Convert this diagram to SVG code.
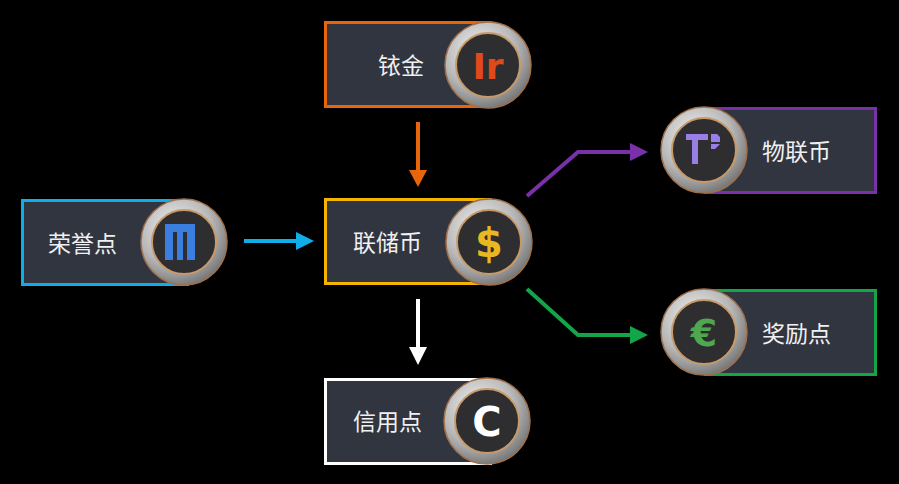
<svg xmlns="http://www.w3.org/2000/svg" width="899" height="484" viewBox="0 0 899 484">
<defs>
<style>
.box{fill:#313540;stroke-width:3}
.lbl{font-family:"Noto Sans CJK SC",sans-serif;font-size:23px;fill:#f0f0f0;dominant-baseline:central}
.ring{fill:url(#silver);stroke:#a0704a;stroke-width:1.5}
.inner{fill:#2e2e30;stroke:#c89a6a;stroke-width:2}
.ico{font-family:"DejaVu Sans",sans-serif;font-weight:bold;text-anchor:middle;dominant-baseline:central}
.c{fill:none;stroke-width:4}
</style>
<radialGradient id="silver" cx="0.4" cy="0.35" r="0.7"><stop offset="0" stop-color="#f4f4f4"/><stop offset="0.6" stop-color="#b8b8b8"/><stop offset="1" stop-color="#707070"/></radialGradient>
<marker id="mo" markerWidth="6" markerHeight="6" refX="3" refY="3" orient="auto" markerUnits="userSpaceOnUse" viewBox="0 0 6 6"><path d="M0,0L6,3L0,6z" fill="#e8650a"/></marker>
</defs>
<rect width="899" height="484" fill="#000"/>
<g id="connectors">
<path class="c" d="M418,122V172" stroke="#e8650a"/><path d="M409,170h18l-9,17z" fill="#e8650a"/>
<path class="c" d="M244,241H298" stroke="#10aee8"/><path d="M296,232v18l18,-9z" fill="#10aee8"/>
<path class="c" d="M418,299V349" stroke="#fff"/><path d="M409,347h18l-9,18z" fill="#fff"/>
<path class="c" d="M527,196L578,152H632" stroke="#7a30a8"/><path d="M630,143v18l18,-9z" fill="#7a30a8"/>
<path class="c" d="M527,289L578,335H632" stroke="#12a648"/><path d="M630,326v18l18,-9z" fill="#12a648"/>
</g>
<g id="iridium">
<rect class="box" x="325.5" y="22.5" width="165" height="84" stroke="#e8650a"/>
<text class="lbl" x="378" y="64">铱金</text>
<circle class="ring" cx="488" cy="65" r="43"/><circle class="inner" cx="488" cy="65" r="32"/>
<text class="ico" x="488" y="66" font-size="36" fill="#e04a1a">Ir</text>
</g>
<g id="honor">
<rect class="box" x="22.5" y="200.5" width="165" height="84" stroke="#10aee8"/>
<text class="lbl" x="48" y="242">荣誉点</text>
<circle class="ring" cx="184" cy="242" r="43"/><circle class="inner" cx="184" cy="242" r="32"/>
<path d="M165,224h30v36h-8v-28h-4v28h-6v-28h-4v28h-8z" fill="#3a7ee0"/>
</g>
<g id="fed">
<rect class="box" x="325.5" y="199.5" width="165" height="84" stroke="#f5b400"/>
<text class="lbl" x="353" y="241">联储币</text>
<circle class="ring" cx="489" cy="242" r="43"/><circle class="inner" cx="489" cy="242" r="32"/>
<text class="ico" x="489" y="243" font-size="40" fill="#e8b820">$</text>
</g>
<g id="credit">
<rect class="box" x="325.5" y="379.5" width="165" height="84" stroke="#fff"/>
<text class="lbl" x="353" y="420">信用点</text>
<circle class="ring" cx="487" cy="421" r="43"/><circle class="inner" cx="487" cy="421" r="32"/>
<text class="ico" x="487" y="422" font-size="40" fill="#fff">C</text>
</g>
<g id="iot">
<rect class="box" x="705.5" y="108.5" width="170" height="84" stroke="#7a30a8"/>
<text class="lbl" x="762" y="150">物联币</text>
<circle class="ring" cx="704" cy="150" r="43"/><circle class="inner" cx="704" cy="150" r="32"/>
<path d="M686,134h22v6h-10v24h-6v-24h-6z M711,134h6l3,3v5h-9z M711,144h9l-5,5h-4z" fill="#9a7ee8"/>
</g>
<g id="reward">
<rect class="box" x="705.5" y="290.5" width="170" height="84" stroke="#12a648"/>
<text class="lbl" x="762" y="332">奖励点</text>
<circle class="ring" cx="704" cy="332" r="43"/><circle class="inner" cx="704" cy="332" r="32"/>
<text class="ico" x="704" y="333" font-size="38" fill="#4ea84e">€</text>
</g>
</svg>
